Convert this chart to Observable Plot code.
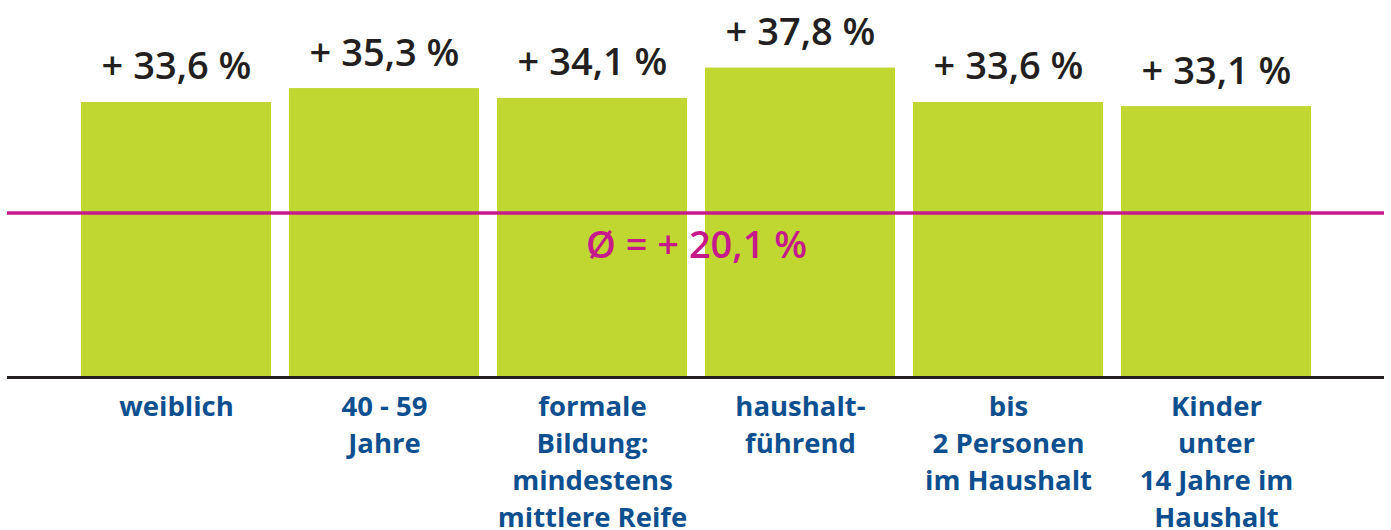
<!DOCTYPE html>
<html>
<head>
<meta charset="utf-8">
<script src="https://cdn.jsdelivr.net/npm/d3@7"></script>
<script src="https://cdn.jsdelivr.net/npm/@observablehq/plot@0.6"></script>
<style>
  html, body { margin: 0; padding: 0; background: #ffffff; }
  #chart svg { display: block; }
</style>
</head>
<body>
<div id="chart"></div>
<script>
const categories = ["weiblich", "40 - 59", "formale Bildung", "haushaltführend", "bis 2 Personen", "Kinder unter 14"];
const tickLabels = [
  "weiblich",
  "40 - 59\nJahre",
  "formale\nBildung:\nmindestens\nmittlere Reife",
  "haushalt-\nführend",
  "bis\n2 Personen\nim Haushalt",
  "Kinder\nunter\n14 Jahre im\nHaushalt"
];
const values = [33.6, 35.3, 34.1, 37.8, 33.6, 33.1];
const meanValue = 20.1;

const data = categories.map((c, i) => ({category: c, value: values[i]}));
const fmt = v => "+ " + v.toFixed(1).replace(".", ",") + " %";
const labelOf = new Map(categories.map((c, i) => [c, tickLabels[i]]));

const chart = Plot.plot({
  width: 1391,
  height: 530,
  marginLeft: 81,
  marginRight: 80,
  marginTop: 0,
  marginBottom: 153,
  style: {fontFamily: "'Open Sans', sans-serif", background: "#ffffff"},
  x: {domain: categories, paddingInner: 0.0865, paddingOuter: 0, round: false, axis: null},
  y: {domain: [0, 46], range: [377, 0.5], axis: null},
  marks: [
    Plot.barY(data, {x: "category", y: "value", fill: "#bfd730"}),
    Plot.ruleY([meanValue], {stroke: "#c6198b", strokeWidth: 3.5, insetLeft: -74, insetRight: -73}),
    Plot.text([fmt(meanValue)], {
      text: d => "Ø = " + d,
      y: () => meanValue, frameAnchor: "middle",
      lineAnchor: "bottom", dy: 45,
      fill: "#c6198b", fontSize: 38, fontWeight: 600
    }),
    Plot.ruleY([0], {stroke: "#231f20", strokeWidth: 3, insetLeft: -74, insetRight: -73}),
    Plot.text(data, {
      x: "category", y: "value", text: d => fmt(d.value),
      lineAnchor: "bottom", dy: -23,
      fill: "#231f20", fontSize: 38, fontWeight: 600
    }),
    Plot.axisX({
      tickSize: 0, tickPadding: 12, label: null,
      tickFormat: d => labelOf.get(d),
      fontSize: 27.5, fontWeight: "bold", fill: "#0d4f8f", lineHeight: 1.35
    })
  ]
});
document.getElementById("chart").appendChild(chart);
</script>
</body>
</html>
